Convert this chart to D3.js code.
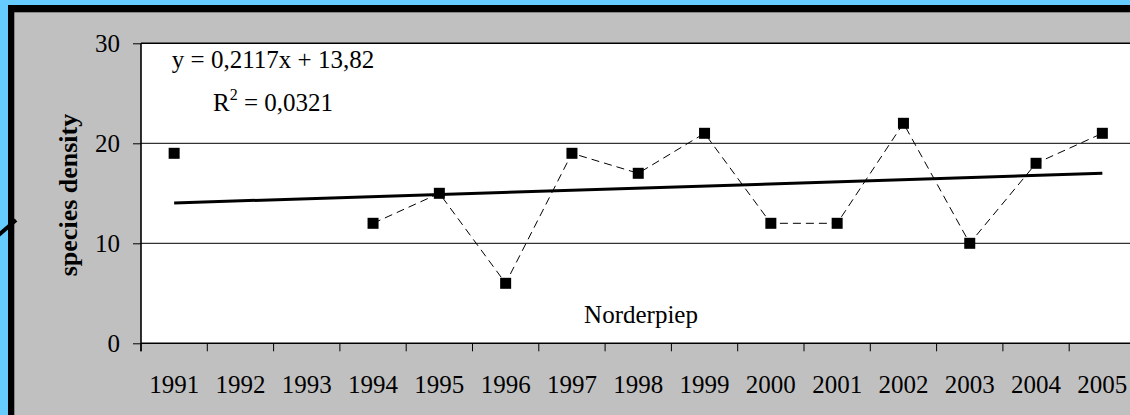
<!DOCTYPE html>
<html>
<head>
<meta charset="utf-8">
<script src="https://cdn.jsdelivr.net/npm/d3@7"></script>
<style>
  html, body { margin: 0; padding: 0; background: #66ccff; overflow: hidden; }
  svg { display: block; }
  text { font-family: "Liberation Serif", "Times New Roman", serif; fill: #000; }
</style>
</head>
<body>
<svg id="chart" width="1130" height="415"></svg>
<script>
// ---- data ----
const years = ["1991","1992","1993","1994","1995","1996","1997","1998","1999","2000","2001","2002","2003","2004","2005"];
const density = [19, null, null, 12, 15, 6, 19, 17, 21, 12, 12, 22, 10, 18, 21];
const yTicks = [0, 10, 20, 30];
const trendSlope = 0.2117;
const trendIntercept = 13.82;
const equationLabel = "y = 0,2117x + 13,82";
const r2Value = "0,0321";
const siteLabel = "Norderpiep";
const yAxisLabel = "species density";

// ---- layout ----
const W = 1130, H = 415;
const plot = { left: 141, right: 1135.5, top: 43.3, bottom: 343.3 };
const fontSize = 25;

const svg = d3.select("#chart");

// background frame
svg.append("rect").attr("x", 0).attr("y", 0).attr("width", W).attr("height", H).attr("fill", "#66ccff");
svg.append("rect").attr("x", 8).attr("y", 5).attr("width", W + 20).attr("height", H + 20).attr("fill", "#000");
svg.append("rect").attr("x", 14.3).attr("y", 12.3).attr("width", W + 20).attr("height", H + 20).attr("fill", "#c0c0c0");
// stray connector stroke at left edge
svg.append("line").attr("x1", -2).attr("y1", 235.5).attr("x2", 16).attr("y2", 220)
  .attr("stroke", "#000").attr("stroke-width", 4);

// scales
const x = d3.scaleBand().domain(years).range([plot.left, plot.right]).paddingInner(0).paddingOuter(0);
const cx = d => x(d) + x.bandwidth() / 2;
const y = d3.scaleLinear().domain([0, 30]).range([plot.bottom, plot.top]);

// plot area
svg.append("rect").attr("x", plot.left).attr("y", plot.top)
  .attr("width", plot.right - plot.left).attr("height", plot.bottom - plot.top)
  .attr("fill", "#fff");

// gridlines
svg.append("g").selectAll("line").data(yTicks.filter(t => t > 0)).join("line")
  .attr("x1", plot.left).attr("x2", plot.right + 10)
  .attr("y1", d => y(d)).attr("y2", d => y(d))
  .attr("stroke", "#000").attr("stroke-width", d => d === 30 ? 1.6 : 1);

// y axis
const yAxis = svg.append("g").attr("transform", `translate(${plot.left},0)`)
  .call(d3.axisLeft(y).tickValues(yTicks).tickSize(8).tickPadding(13).tickFormat(d3.format("d")));
yAxis.select(".domain").remove();
yAxis.selectAll(".tick line").attr("stroke", "#000").attr("stroke-width", 1);
yAxis.selectAll("text").attr("font-size", fontSize).attr("font-family", "Liberation Serif").attr("fill", "#000");
svg.append("line").attr("x1", plot.left).attr("x2", plot.left)
  .attr("y1", plot.top).attr("y2", plot.bottom + 8).attr("stroke", "#000").attr("stroke-width", 1.6);

// x axis
const xAxis = svg.append("g").attr("transform", `translate(0,${plot.bottom})`)
  .call(d3.axisBottom(x).tickSize(0));
xAxis.select(".domain").remove();
xAxis.selectAll("text").attr("font-size", fontSize).attr("font-family", "Liberation Serif")
  .attr("fill", "#000").attr("y", 393 - plot.bottom).attr("dy", null);
svg.append("g").selectAll("line").data(years).join("line")
  .attr("x1", d => x(d)).attr("x2", d => x(d))
  .attr("y1", plot.bottom).attr("y2", plot.bottom + 8)
  .attr("stroke", "#000").attr("stroke-width", 1);
svg.append("line").attr("x1", plot.left).attr("x2", plot.right + 10)
  .attr("y1", plot.bottom).attr("y2", plot.bottom).attr("stroke", "#000").attr("stroke-width", 1.6);

// y axis title
svg.append("text")
  .attr("transform", `translate(77,195) rotate(-90)`)
  .attr("text-anchor", "middle")
  .attr("font-size", 26).attr("font-weight", "bold")
  .text(yAxisLabel);

// dashed series line
const pts = years.map((yr, i) => ({ yr, v: density[i] }));
const line = d3.line().defined(d => d.v !== null).x(d => cx(d.yr)).y(d => y(d.v));
svg.append("path").datum(pts).attr("d", line)
  .attr("fill", "none").attr("stroke", "#000").attr("stroke-width", 1)
  .attr("stroke-dasharray", "8,5");

// trend line
const trendPts = years.map((yr, i) => ({ yr, v: trendSlope * (i + 1) + trendIntercept }));
svg.append("path").datum([trendPts[0], trendPts[trendPts.length - 1]])
  .attr("d", d3.line().x(d => cx(d.yr)).y(d => y(d.v)))
  .attr("fill", "none").attr("stroke", "#000").attr("stroke-width", 3);

// markers
const ms = 11;
svg.append("g").selectAll("rect").data(pts.filter(d => d.v !== null)).join("rect")
  .attr("x", d => cx(d.yr) - ms / 2).attr("y", d => y(d.v) - ms / 2)
  .attr("width", ms).attr("height", ms).attr("fill", "#000");

// equation labels
svg.append("text").attr("x", 273).attr("y", 68).attr("text-anchor", "middle")
  .attr("font-size", fontSize).text(equationLabel);
const r2 = svg.append("text").attr("x", 273).attr("y", 111).attr("text-anchor", "middle")
  .attr("font-size", fontSize);
r2.append("tspan").text("R");
r2.append("tspan").attr("font-size", 16).attr("dy", -11).text("2");
r2.append("tspan").attr("dy", 11).text(" = " + r2Value);

// site label
svg.append("text").attr("x", 641).attr("y", 323).attr("text-anchor", "middle")
  .attr("font-size", fontSize).text(siteLabel);
</script>
</body>
</html>
